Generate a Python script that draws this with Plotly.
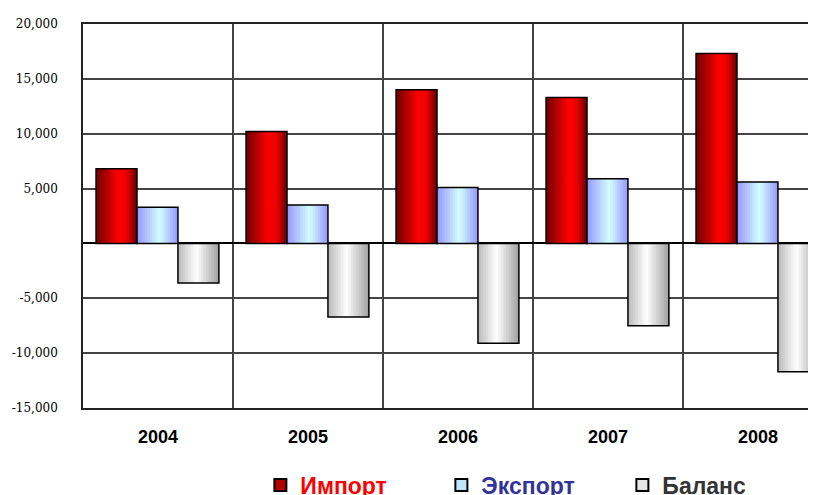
import plotly.graph_objects as go

years = ["2004", "2005", "2006", "2007", "2008"]
imports = [6800, 10200, 14000, 13300, 17300]
exports = [3300, 3500, 5100, 5900, 5600]
balance = [-3600, -6700, -9100, -7500, -11700]
series_names = ["Импорт", "Экспорт", "Баланс"]
y_tickvals = [20000, 15000, 10000, 5000, 0, -5000, -10000, -15000]
y_ticktext = ["20,000", "15,000", "10,000", "5,000", "", "-5,000", "-10,000", "-15,000"]

xpos = list(range(len(years)))

# gradient stops (position across bar width, rgb)
grads = [
    [(0.0, (110, 0, 0)), (0.55, (255, 0, 0)), (0.75, (235, 0, 0)), (1.0, (100, 0, 0))],
    [(0.0, (150, 150, 255)), (0.55, (210, 255, 255)), (1.0, (150, 150, 255))],
    [(0.0, (185, 185, 185)), (0.45, (255, 255, 255)), (1.0, (160, 160, 160))],
]
legend_cols = ["#b00000", "#bfe6ff", "#e6e6e6"]
text_cols = ["#ff0000", "#333399", "#333333"]


def interp(stops, t):
    for (p0, c0), (p1, c1) in zip(stops, stops[1:]):
        if p0 <= t <= p1:
            f = (t - p0) / (p1 - p0) if p1 > p0 else 0
            c = [round(a + (b - a) * f) for a, b in zip(c0, c1)]
            return f"rgb({c[0]},{c[1]},{c[2]})"
    c = stops[-1][1]
    return f"rgb({c[0]},{c[1]},{c[2]})"


bw = 0.273
base_offsets = [-0.413, -0.140, 0.133]
N = 16

fig = go.Figure()
for s, vals in enumerate([imports, exports, balance]):
    sw = bw / N
    for k in range(N):
        fig.add_trace(go.Bar(
            x=xpos, y=vals,
            width=bw - k * sw, offset=base_offsets[s] + k * sw,
            marker=dict(color=interp(grads[s], (k + 0.5) / N), line=dict(width=0)),
            showlegend=False, hoverinfo="skip",
        ))
    fig.add_trace(go.Bar(
        x=xpos, y=vals, width=bw, offset=base_offsets[s],
        marker=dict(color="rgba(0,0,0,0)", line=dict(color="black", width=1.5)),
        showlegend=False, name=series_names[s],
    ))

for s in range(3):
    fig.add_trace(go.Bar(
        x=[None], y=[None],
        name=f"<span style='color:{text_cols[s]}'><b>{series_names[s]}</b></span>",
        marker=dict(color=legend_cols[s], line=dict(color="black", width=1.5)),
        showlegend=True,
    ))

fig.update_layout(
    width=816, height=495,
    margin=dict(l=75, r=0, t=16, b=95, autoexpand=False),
    paper_bgcolor="white", plot_bgcolor="white",
    barmode="overlay",
    showlegend=True,
    legend=dict(
        orientation="h", xref="container", yref="container",
        x=0.642, xanchor="center", y=18 / 495, yanchor="middle",
        font=dict(family="Liberation Sans", size=23, color="black"),
        entrywidth=136, entrywidthmode="pixels",
        itemsizing="constant", traceorder="normal",
    ),
    xaxis=dict(
        range=[-0.5, 4.44],
        tickmode="array", tickvals=xpos, ticktext=[f"<b>{y}</b>" for y in years],
        tickfont=dict(family="Liberation Sans", size=18, color="black"),
        showgrid=False, zeroline=False,
        showline=True, linecolor="#222", linewidth=1.5, mirror=True,
        ticks="", ticklabelstandoff=12,
        minor=dict(tick0=0.5, dtick=1, showgrid=True, gridcolor="#444", gridwidth=1.5),
    ),
    yaxis=dict(
        range=[-15000, 20000],
        tickmode="array", tickvals=y_tickvals, ticktext=y_ticktext,
        tickfont=dict(family="DejaVu Serif", size=12, color="black"),
        showgrid=True, gridcolor="#444", gridwidth=1.5,
        zeroline=True, zerolinecolor="black", zerolinewidth=1.5,
        showline=True, linecolor="#222", linewidth=1.5,
        ticks="", ticklabelstandoff=21,
    ),
)

fig.write_html("out.html")
